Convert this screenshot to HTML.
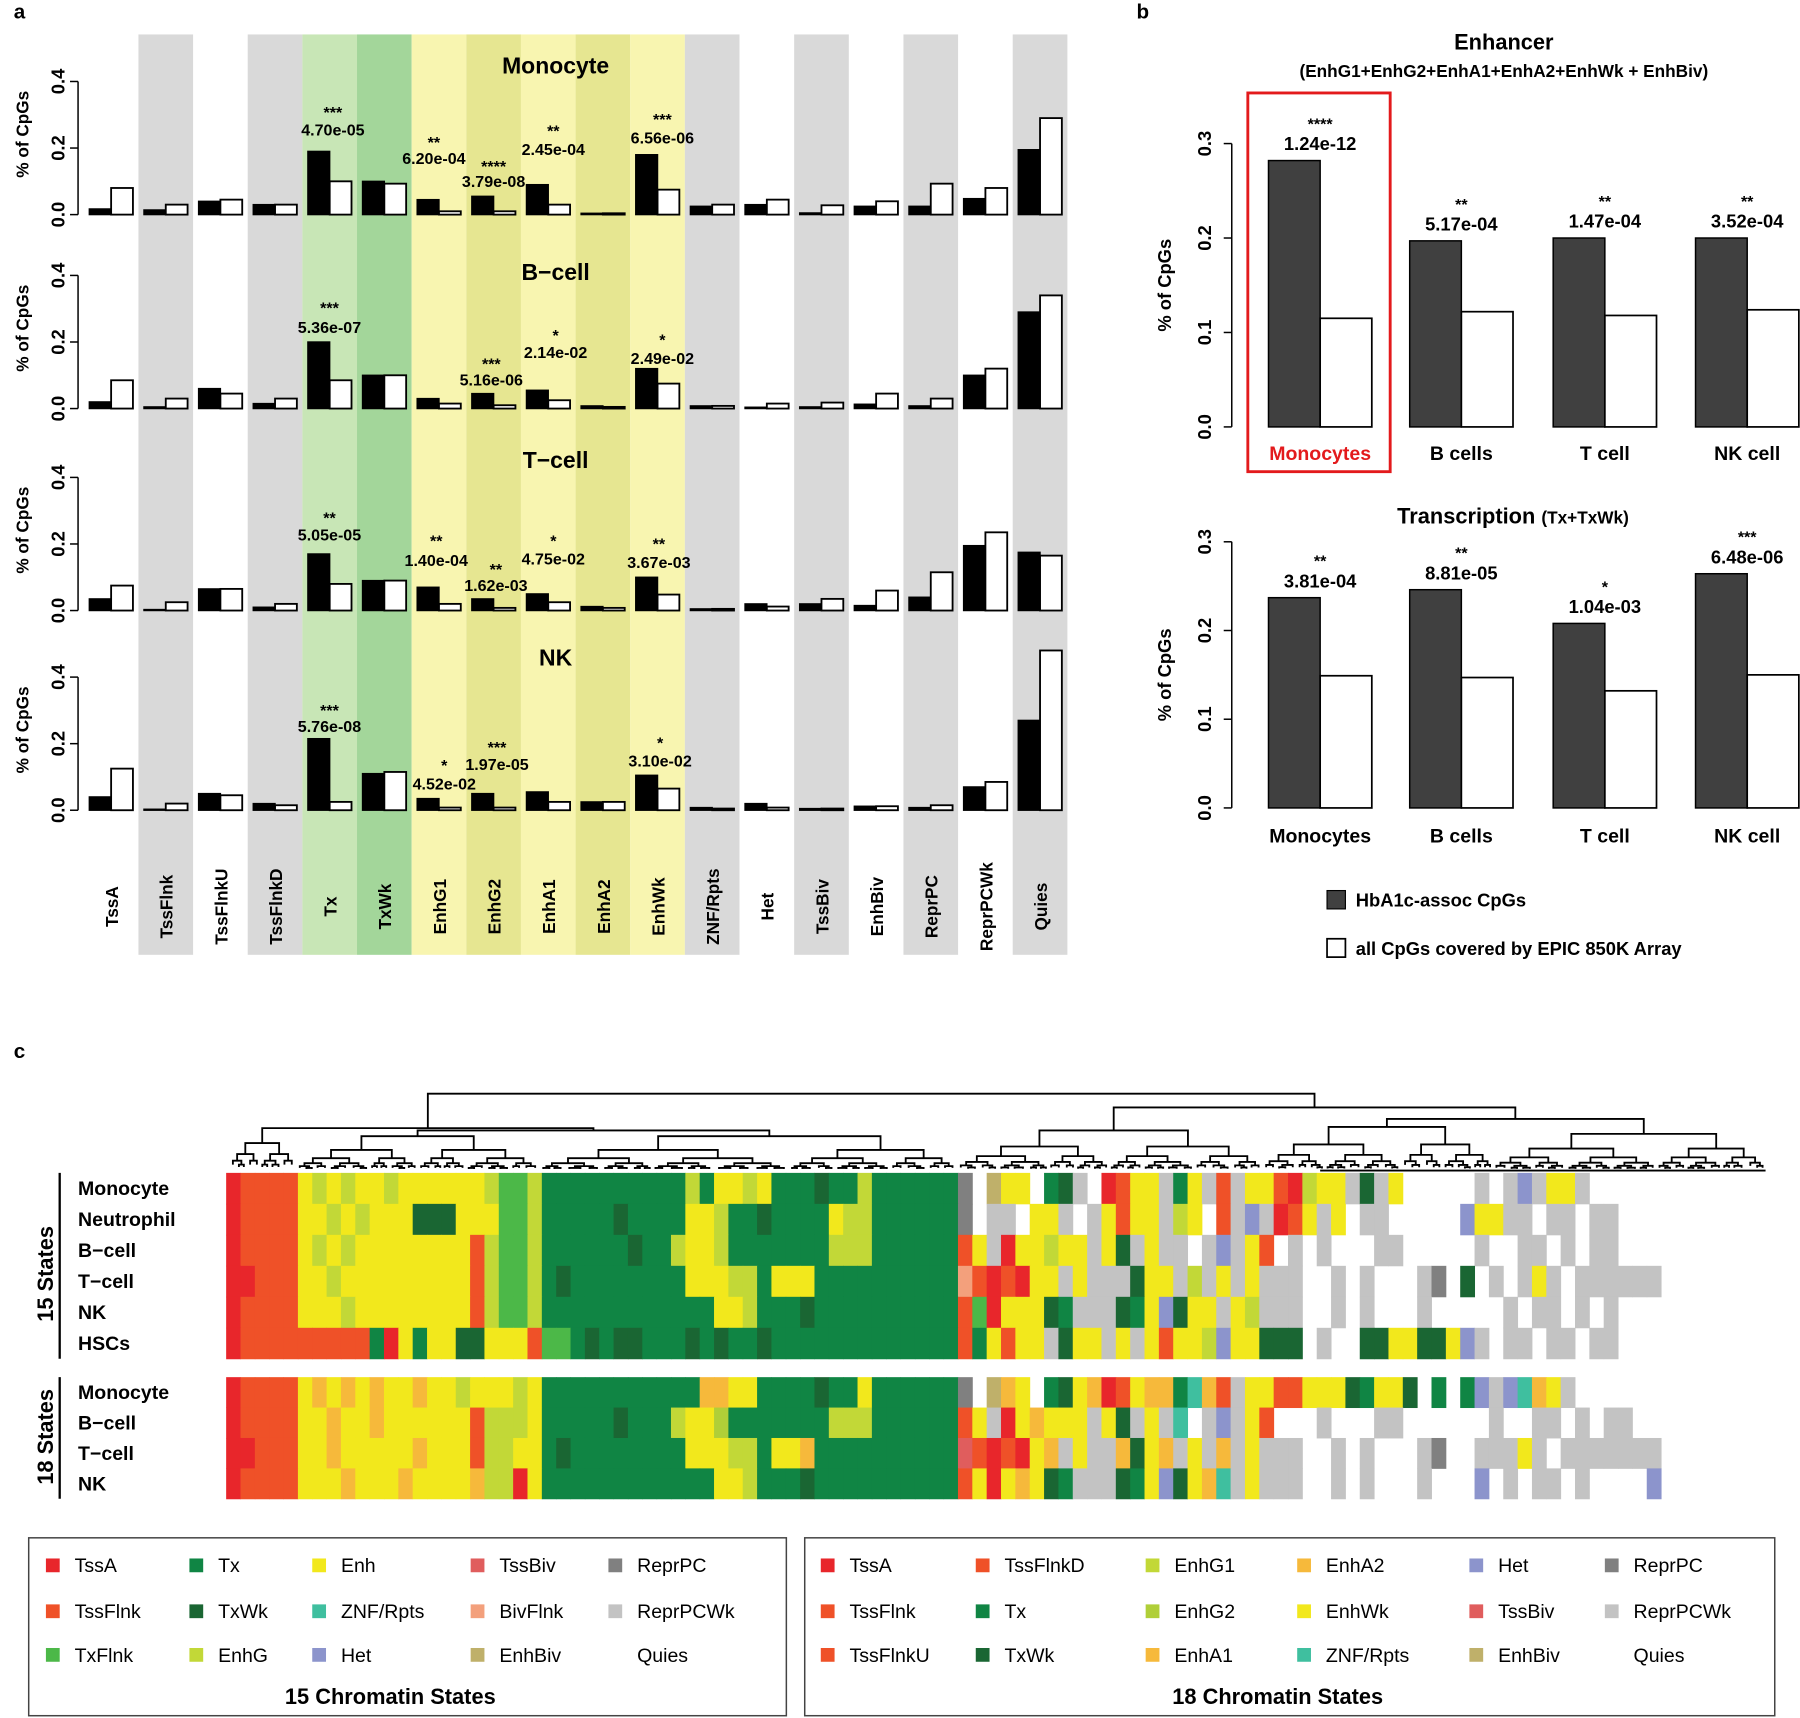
<!DOCTYPE html>
<html><head><meta charset="utf-8">
<style>
html,body{margin:0;padding:0;background:#fff;}
svg{display:block;font-family:"Liberation Sans",Arial,sans-serif;}
</style></head>
<body>
<svg id="fig" width="1800" height="1718" viewBox="0 0 1568 1497" preserveAspectRatio="none" xmlns="http://www.w3.org/2000/svg"></svg>
<script>
// ---------- Panel a data ----------
const statesA = ["TssA","TssFlnk","TssFlnkU","TssFlnkD","Tx","TxWk","EnhG1","EnhG2","EnhA1","EnhA2","EnhWk","ZNF/Rpts","Het","TssBiv","EnhBiv","ReprPC","ReprPCWk","Quies"];
const cellsA = ["Monocyte","B\u2212cell","T\u2212cell","NK"];
const monoHba = [0.017,0.014,0.04,0.03,0.19,0.10,0.045,0.055,0.09,0.004,0.18,0.025,0.03,0.005,0.025,0.025,0.048,0.195];
const monoAll = [0.08,0.03,0.045,0.03,0.10,0.093,0.01,0.01,0.03,0.004,0.075,0.03,0.045,0.028,0.04,0.093,0.08,0.29];
const bHba = [0.02,0.005,0.06,0.015,0.20,0.10,0.03,0.045,0.055,0.008,0.12,0.008,0.004,0.005,0.013,0.008,0.10,0.29];
const bAll = [0.085,0.03,0.045,0.03,0.085,0.10,0.015,0.01,0.025,0.005,0.075,0.008,0.015,0.018,0.045,0.03,0.12,0.34];
const tHba = [0.035,0.003,0.065,0.01,0.17,0.09,0.07,0.035,0.05,0.012,0.10,0.005,0.02,0.02,0.015,0.04,0.195,0.175];
const tAll = [0.075,0.025,0.065,0.02,0.08,0.09,0.02,0.008,0.025,0.008,0.048,0.005,0.012,0.035,0.06,0.115,0.235,0.165];
const nkHba = [0.04,0.003,0.05,0.02,0.215,0.11,0.035,0.05,0.055,0.025,0.105,0.008,0.02,0.005,0.012,0.008,0.07,0.27];
const nkAll = [0.125,0.02,0.045,0.015,0.025,0.115,0.008,0.008,0.025,0.025,0.065,0.005,0.008,0.005,0.012,0.015,0.085,0.48];
const yTicksA = [0.0,0.2,0.4];
// annotations: [columnIndex, stars, pvalue, textX, starY, pY]
const annMono = [[4,"***","4.70e-05",290,98,113],[6,"**","6.20e-04",378,124,138],[7,"****","3.79e-08",430,145,158],[8,"**","2.45e-04",482,114,130],[10,"***","6.56e-06",577,104,120]];
const annB = [[4,"***","5.36e-07",287,268,285],[7,"***","5.16e-06",428,317,331],[8,"*","2.14e-02",484,292,307],[10,"*","2.49e-02",577,296,312]];
const annT = [[4,"**","5.05e-05",287,451,466],[6,"**","1.40e-04",380,471,488],[7,"**","1.62e-03",432,496,510],[8,"*","4.75e-02",482,471,487],[10,"**","3.67e-03",574,474,490]];
const annNK = [[4,"***","5.76e-08",287,619,633],[6,"*","4.52e-02",387,667,683],[7,"***","1.97e-05",433,651,666],[10,"*","3.10e-02",575,647,663]];

// ---------- Panel b data ----------
const cellsB1 = ["Monocytes","B cells","T cell","NK cell"];
const enhHba = [0.282,0.197,0.200,0.200];
const enhAll = [0.115,0.122,0.118,0.124];
const enhStars = ["****","**","**","**"];
const enhP = ["1.24e-12","5.17e-04","1.47e-04","3.52e-04"];
const txHba = [0.237,0.246,0.208,0.264];
const txAll = [0.149,0.147,0.132,0.150];
const txStars = ["**","**","*","***"];
const txP = ["3.81e-04","8.81e-05","1.04e-03","6.48e-06"];
const yTicksB = [0.0,0.1,0.2,0.3];

// ---------- Panel c data ----------
const rows15Names = ["Monocyte","Neutrophil","B\u2212cell","T\u2212cell","NK","HSCs"];
const rows15 = [
"AFFFF"+"EGEGEEGEEEEEEG"+"xxG"+"TTTTTTTTT"+"TGTEEGETTTWTTG"+"TTTTTT"+"P.VEE.TWp."+"AFEEpTEpFpEE"+"FAGEEpWpE..."+"..p.pHpEEp.....",
"AFFFF"+"EEGEGEEEWWWEEE"+"xxG"+"TTTTTWTTT"+"TEEGTTWTTTTEGG"+"TTTTTT"+"P.pp.EEp.p"+"EFEEpGE.FpHp"+"AFEpE.pp....."+"HEEpp.pp.pp....",
"AFFFF"+"EGEGEEEEEEEEFG"+"xxG"+"TTTTTTWTT"+"GEEGTTTTTTTGGG"+"TTTTTT"+"FEpAEEGEEp"+"EWpEpp.pHpEF"+".p.p...pp....."+"p..pp.p.pp.....",
"AAFFF"+"EEGEEEEEEEEEFG"+"xxG"+"TWTTTTTTT"+"TEEEGGTEEETTTT"+"TTTTTT"+"bFAFAEEpEp"+"ppWEEpGpEpEp"+"pp..p.p...pP.W"+".p.pEp.pppppppp",
"AFFFF"+"EEEGEEEEEEEEFG"+"xxG"+"TTTTTTTTT"+"TTTEEGTTTWTTTT"+"TTTTTT"+"FxAEEEWTpp"+"pWTEHWEEpEGp"+"pp..p.p...p..."+"..p.pp.p.p.....",
"AFFFF"+"FFFFFTAETEEWWE"+"EEF"+"xxTWTWWTT"+"TWTWTTWTTTTTTT"+"TTTTTT"+"FTEFEEpWEE"+"pEpEFEEGHEEW"+"WW.p..WWEEWWE"+"Hp.pp.pp.pp...."
];
const rows18Names = ["Monocyte","B\u2212cell","T\u2212cell","NK"];
const rows18 = [
"AFFFF"+"EaEaEoEEaEE1EE"+"E1E"+"TTTTTTTTT"+"TTaoEETTTTWTTE"+"TTTTTT"+"P.VaE.TWEa"+"AFEaaTZaFpEE"+"FFEEEWTEEW.T.T"+"HpHZoEp......H.H",
"AFFFF"+"EEaEEoEEEEEEF1"+"11E"+"TTTTTWTTT"+"1EE2TTTTTTT111"+"TTTTTT"+"FEpAEaEEEp"+"EWpEpZ.pHpEF"+"...p...pp......"+"p..pp.p.pp.....",
"AAFFF"+"EEaEEEEEaEEEF1"+"1EE"+"TWTTTTTTT"+"TEEE11TEEaTTTT"+"TTTTTT"+"BFAFAEapEp"+"paWEapEpapEp"+"pp..p.p...pP.."+"pppEp.pppppppH.",
"AFFFF"+"EEEaEEEaEEEEa1"+"1AE"+"TTTTTTTTT"+"TTTEE1TTTWTTTT"+"TTTTTT"+"FEAEaEWTpp"+"pWTEHWEaZpEp"+"pp..p.p...p..."+"H.p.pp.p....H.."
];
const legend15 = [["TssA","A"],["TssFlnk","F"],["TxFlnk","x"],["Tx","T"],["TxWk","W"],["EnhG","G"],["Enh","E"],["ZNF/Rpts","Z"],["Het","H"],["TssBiv","B"],["BivFlnk","b"],["EnhBiv","V"],["ReprPC","P"],["ReprPCWk","p"],["Quies","."]];
const legend18 = [["TssA","A"],["TssFlnk","F"],["TssFlnkU","U"],["TssFlnkD","D"],["Tx","T"],["TxWk","W"],["EnhG1","1"],["EnhG2","2"],["EnhA1","a"],["EnhA2","o"],["EnhWk","E"],["ZNF/Rpts","Z"],["Het","H"],["TssBiv","B"],["EnhBiv","V"],["ReprPC","P"],["ReprPCWk","p"],["Quies","."]];

const COL = {A:"#e8262b",F:"#ef5128",U:"#ef5128",D:"#ef5128",x:"#4cb848",T:"#108544",W:"#1a6633",G:"#c2d837",1:"#c2d837",2:"#b0cf38",E:"#f2e81c",a:"#f6b93b",o:"#f6b93b",Z:"#3fbf9f",H:"#8c94cc",B:"#e05d5d",b:"#f3a07c",V:"#bfb06a",P:"#808080",p:"#c3c3c3",".":"#ffffff"};

const svg = document.getElementById('fig');
const NS = "http://www.w3.org/2000/svg";
function mk(tag, attrs, parent){
  const e = document.createElementNS(NS, tag);
  for (const k in attrs) e.setAttribute(k, attrs[k]);
  (parent||svg).appendChild(e);
  return e;
}
function txt(x,y,s,size,opts,parent){
  const o = Object.assign({x:x,y:y,"font-size":size,"font-weight":"bold","text-anchor":"middle",fill:"#000"},opts||{});
  const t = mk("text",o,parent);
  t.textContent = s;
  return t;
}

// ---------- Panel letters ----------
[["a",12,16],["b",990,16],["c",12,922]].forEach(([s,x,y])=>{
  const t = txt(x,y,s,18,{"text-anchor":"start"});
  
  
});

// ---------- Panel a ----------
const gA = mk("g",{});


const colX0 = 73, colW = 47.6;
function cx(i){ return colX0 + colW*(i+0.5); }
const bandColor = {1:"#d9d9d9",3:"#d9d9d9",11:"#d9d9d9",13:"#d9d9d9",15:"#d9d9d9",17:"#d9d9d9",4:"#c8e6b6",5:"#a3d69a",6:"#f8f5b0",7:"#e6e691",8:"#f8f5b0",9:"#e6e691",10:"#f8f5b0"};
statesA.forEach((s,i)=>{
  if (bandColor[i]) {
    const r = mk("rect",{x:colX0+colW*i,y:30,width:colW,height:802,fill:bandColor[i]},gA);
    
    
  }
  const t = txt(0,0,s,15,{transform:`translate(${cx(i)+6},790) rotate(-90)`},gA);
  
  
});
const subBase = [187,356,532,706];
const unitA = 290;
const seriesA = [[monoHba,monoAll,annMono],[bHba,bAll,annB],[tHba,tAll,annT],[nkHba,nkAll,annNK]];
const titleY = [64,244,408,580];
seriesA.forEach(([hb,al,ann],k)=>{
  const base = subBase[k];
  const y = v => base - v*unitA;
  const g = mk("g",{},gA);
  
  
  mk("line",{x1:68,x2:68,y1:y(0),y2:y(0.4),stroke:"#000","stroke-width":1.3},g);
  yTicksA.forEach(v=>{
    mk("line",{x1:61,x2:68,y1:y(v),y2:y(v),stroke:"#000","stroke-width":1.3},g);
    const t = txt(0,0,v.toFixed(1),16,{transform:`translate(56,${y(v)}) rotate(-90)`},g);
    
    
  });
  const yt = txt(0,0,"% of CpGs",15,{transform:`translate(25,${base-70}) rotate(-90)`},g);
  
  
  const tt = txt(484,titleY[k],cellsA[k],20,{},g);
  
  
  hb.forEach((v,i)=>{
    const b1 = mk("rect",{x:cx(i)-19,y:y(v),width:19,height:v*unitA,fill:"#000",stroke:"#000","stroke-width":1.2},g);
    
    
    const b2 = mk("rect",{x:cx(i),y:y(al[i]),width:19,height:al[i]*unitA,fill:"#fff",stroke:"#000","stroke-width":1.6},g);
    
    
  });
  ann.forEach(a=>{
    const s1 = txt(a[3],a[4]+5,a[1],14,{},g);
    
    
    const s2 = txt(a[3],a[5]+5,a[2],14,{},g);
    
    
  });
});

// ---------- Panel b ----------
const gB = mk("g",{});


txt(1310,43,"Enhancer",19,{},gB);
txt(1310,67,"(EnhG1+EnhG2+EnhA1+EnhA2+EnhWk + EnhBiv)",15,{},gB);
const tTitle = mk("text",{x:1318,y:456,"font-size":19,"font-weight":"bold","text-anchor":"middle"},gB);
tTitle.innerHTML = 'Transcription <tspan font-size="15">(Tx+TxWk)</tspan>';


const groupX = [1105,1228,1353,1477];
function drawB(hb,al,stars,ps,base,unit,labY,which){
  const y = v => base - v*unit;
  const g = mk("g",{},gB);
  
  
  mk("line",{x1:1073,x2:1073,y1:y(0),y2:y(0.3),stroke:"#000","stroke-width":1.3},g);
  yTicksB.forEach(v=>{
    mk("line",{x1:1066,x2:1073,y1:y(v),y2:y(v),stroke:"#000","stroke-width":1.3},g);
    const t = txt(0,0,v.toFixed(1),16,{transform:`translate(1055,${y(v)}) rotate(-90)`},g);
    
    
  });
  const yt = txt(0,0,"% of CpGs",16,{transform:`translate(1020,${y(0.15)}) rotate(-90)`},g);
  
  
  hb.forEach((v,i)=>{
    const x = groupX[i];
    const r1 = mk("rect",{x:x,y:y(v),width:45,height:v*unit,fill:"#404040",stroke:"#000","stroke-width":1.3},g);
    
    
    const r2 = mk("rect",{x:x+45,y:y(al[i]),width:45,height:al[i]*unit,fill:"#fff",stroke:"#000","stroke-width":1.5},g);
    
    
    const top = y(v);
    const s = txt(x+45,top-27,stars[i],14,{},g);
    
    
    const p = txt(x+45,top-9,ps[i],16,{},g);
    
    
    const l = txt(x+45,labY,cellsB1[i],17,{fill:(which==="enhancer"&&i===0)?"#e31a1c":"#000"},g);
    
    
  });
}
drawB(enhHba,enhAll,enhStars,enhP,372,823,401,"enhancer");
drawB(txHba,txAll,txStars,txP,704,773,734,"transcription");
const hl = mk("rect",{x:1087,y:81,width:124,height:330,fill:"none",stroke:"#e31a1c","stroke-width":2.5},gB);


const lg1 = mk("rect",{x:1156,y:776,width:16,height:16,fill:"#404040",stroke:"#000"},gB);


txt(1181,790,"HbA1c-assoc CpGs",16,{"text-anchor":"start"},gB);
const lg2 = mk("rect",{x:1156,y:818,width:16,height:16,fill:"#fff",stroke:"#000","stroke-width":1.5},gB);


txt(1181,832,"all CpGs covered by EPIC 850K Array",16,{"text-anchor":"start"},gB);

// ---------- Panel c ----------
const gC = mk("g",{});


const hx0 = 197, cw = 12.5, maxCols = 100;
function drawRows(rows,names,y0,rh){
  rows.forEach((r,ri)=>{
    for (let i=0;i<Math.min(r.length,maxCols);i++){
      const c = r[i];
      if (c==='.') continue;
      const cell = mk("rect",{x:hx0+i*cw,y:y0+ri*rh,width:cw+0.4,height:rh+0.4,fill:COL[c]},gC);
      
      
    }
    const l = txt(68,y0+ri*rh+rh/2+6,names[ri],17,{"text-anchor":"start"},gC);
    
    
  });
}
drawRows(rows15,rows15Names,1022,27);
drawRows(rows18,rows18Names,1200,26.5);
const l15 = txt(0,0,"15 States",19,{transform:"translate(46,1110) rotate(-90)"},gC);


mk("line",{x1:52,x2:52,y1:1022,y2:1184,stroke:"#000","stroke-width":2},gC);
const l18 = txt(0,0,"18 States",19,{transform:"translate(46,1252) rotate(-90)"},gC);


mk("line",{x1:52,x2:52,y1:1200,y2:1306,stroke:"#000","stroke-width":2},gC);

// dendrogram (decorative)
const gD = mk("g",{stroke:"#000","stroke-width":1.6,fill:"none"},gC);


function tree(a,b,h,depth){
  if (b-a<=8 || depth>7) { return (a+b)/2; }
  const m = a + (b-a)*(0.4+0.2*((depth*7+Math.round(a))%5)/4);
  const ch = h + (1020-h)*0.4;
  const xl = tree(a,m,ch,depth+1), xr = tree(m,b,ch,depth+1);
  mk("path",{d:`M${xl},${ch} V${h} H${xr} V${ch}`},gD);
  return (xl+xr)/2;
}
(function(){
  // left main cluster
  const a1 = tree(200,258,996,3), a2 = tree(258,470,990,2), a3 = tree(470,833,990,2);
  mk("path",{d:`M${a2},990 V985 H${a3} V990`},gD);
  const a23 = (a2+a3)/2;
  mk("path",{d:`M${a1},996 V983 H${a23} V985`},gD);
  const L = (a1+a23)/2;
  // right main cluster
  const b1 = tree(833,1100,985,2), b2 = tree(1100,1300,982,2), b3 = tree(1300,1538,988,2);
  mk("path",{d:`M${b2},982 V975 H${b3} V988`},gD);
  const b23 = (b2+b3)/2;
  mk("path",{d:`M${b1},985 V965 H${b23} V975`},gD);
  const R = (b1+b23)/2;
  mk("path",{d:`M${L},983 V953 H${R} V965`},gD);
  mk("path",{d:`M1150,1020 H1538`},gD);
})();

// legends
function legendBox(x,y,w,h,items,colsX,title,titleX,name){
  const g = mk("g",{},gC);
  
  
  mk("rect",{x:x,y:y,width:w,height:h,fill:"none",stroke:"#444","stroke-width":1.3},g);
  const rowsY = [1364,1404,1442];
  items.forEach((it,i)=>{
    const col = Math.floor(i/3), row = i%3;
    const cx0 = colsX[col], cy = rowsY[row];
    if (it[1] !== '.') {
      const s = mk("rect",{x:cx0,y:cy-6,width:12,height:12,fill:COL[it[1]]},g);
      
      
    }
    const t = txt(cx0+25,cy+6,it[0],17,{"text-anchor":"start","font-weight":"normal"},g);
    
    
  });
  txt(titleX,y+h-10,title,19,{},g);
}
legendBox(25,1340,660,155,legend15,[40,165,272,410,530],"15 Chromatin States",340,"legend-15-states");
legendBox(701,1340,845,155,legend18,[715,850,998,1130,1280,1398],"18 Chromatin States",1113,"legend-18-states");
</script>
</body></html>
